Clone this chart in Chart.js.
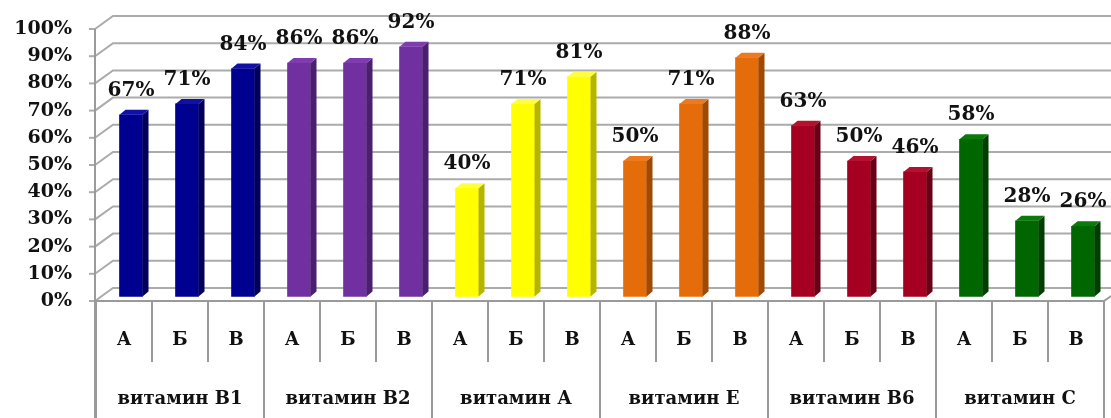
<!DOCTYPE html>
<html>
<head>
<meta charset="utf-8">
<script src="https://cdn.jsdelivr.net/npm/chart.js@4.4.0/dist/chart.umd.min.js"></script>
<style>
  html, body { margin: 0; padding: 0; background: #ffffff; }
  #wrap { width: 1111px; height: 418px; }
</style>
</head>
<body>
<div id="wrap"><canvas id="c" width="1111" height="418"></canvas></div>
<script>
// ---- data ----
const groups = ['витамин В1', 'витамин В2', 'витамин А', 'витамин Е', 'витамин В6', 'витамин С'];
const subLabels = ['А', 'Б', 'В'];
const vitB1 = [67, 71, 84];
const vitB2 = [86, 86, 92];
const vitA  = [40, 71, 81];
const vitE  = [50, 71, 88];
const vitB6 = [63, 50, 46];
const vitC  = [58, 28, 26];
const yTicks = [0, 10, 20, 30, 40, 50, 60, 70, 80, 90, 100];
const groupColors = ['#000090', '#7030A0', '#FFFF00', '#E46C0A', '#A50021', '#006600'];
const sideColors  = ['#00005A', '#4A1F6E', '#B5B500', '#9E4A05', '#6A0015', '#003E00'];
const topColors   = ['#1010A8', '#7E3CB0', '#FFFF40', '#EE7A1E', '#B5102F', '#0A7A0A'];

// ---- build ----
const seriesByGroup = [vitB1, vitB2, vitA, vitE, vitB6, vitC];
const labels = [];
const values = [];
const barColors = [];
const barSide = [];
const barTop = [];
seriesByGroup.forEach((s, gi) => {
  s.forEach((v, i) => {
    labels.push(subLabels[i]);
    values.push(v);
    barColors.push(groupColors[gi]);
    barSide.push(sideColors[gi]);
    barTop.push(topColors[gi]);
  });
});

const FONT = 'DejaVu Serif';
const SHIFT = 7;      // bars sit deeper than the category table
const DX = 6, DY = 5; // bar depth

const wallPlugin = {
  id: 'wall',
  beforeDatasetsDraw(chart) {
    const ctx = chart.ctx;
    const y = chart.scales.y;
    const x = chart.scales.x;
    const frontX = 95, backX = 113;
    const W = chart.width;
    ctx.save();
    // back-wall gridlines with diagonal connectors
    ctx.strokeStyle = '#ababab';
    ctx.lineWidth = 2;
    yTicks.forEach(v => {
      const yp = y.getPixelForValue(v);
      const fy = yp + 4, by = yp - 9;
      ctx.beginPath();
      ctx.moveTo(frontX, fy);
      ctx.lineTo(backX, by);
      ctx.lineTo(W, by);
      ctx.stroke();
      ctx.beginPath();
      ctx.moveTo(frontX - 6, fy);
      ctx.lineTo(frontX, fy);
      ctx.stroke();
    });
    // front axis
    ctx.strokeStyle = '#9a9a9a';
    const y0 = y.getPixelForValue(0) + 4;
    const y100 = y.getPixelForValue(100) + 4;
    ctx.beginPath();
    ctx.moveTo(frontX, y100);
    ctx.lineTo(frontX, chart.height);
    ctx.stroke();
    // floor front edge
    const n = labels.length;
    const step = x.getPixelForValue(1) - x.getPixelForValue(0);
    const leftB = x.getPixelForValue(0) - step / 2 - SHIFT;
    const rightB = x.getPixelForValue(n - 1) + step / 2 - SHIFT;
    ctx.beginPath();
    ctx.moveTo(frontX, y0);
    ctx.lineTo(rightB, y0);
    ctx.lineTo(rightB + 10, y0 - 7);
    ctx.stroke();
    // category table dividers
    for (let i = 0; i <= n; i++) {
      const bx = leftB + i * step;
      const major = (i % 3 === 0);
      ctx.beginPath();
      ctx.moveTo(bx, y0);
      ctx.lineTo(bx, major ? chart.height : 362);
      ctx.stroke();
    }
    ctx.restore();
  },
  afterDatasetsDraw(chart) {
    const ctx = chart.ctx;
    const meta = chart.getDatasetMeta(0);
    ctx.save();
    meta.data.forEach((el, i) => {
      const p = el.getProps(['x', 'y', 'base', 'width'], true);
      const l = p.x - p.width / 2, r = p.x + p.width / 2;
      // side face
      ctx.fillStyle = barSide[i];
      ctx.beginPath();
      ctx.moveTo(r, p.y);
      ctx.lineTo(r + DX, p.y - DY);
      ctx.lineTo(r + DX, p.base - DY);
      ctx.lineTo(r, p.base);
      ctx.closePath();
      ctx.fill();
      // top face
      ctx.fillStyle = barTop[i];
      ctx.beginPath();
      ctx.moveTo(l, p.y);
      ctx.lineTo(l + DX, p.y - DY);
      ctx.lineTo(r + DX, p.y - DY);
      ctx.lineTo(r, p.y);
      ctx.closePath();
      ctx.fill();
      // value label
      ctx.fillStyle = '#111111';
      ctx.font = 'bold 20px "' + FONT + '"';
      ctx.textAlign = 'center';
      ctx.textBaseline = 'middle';
      ctx.fillText(values[i] + '%', p.x, p.y - 24);
    });
    ctx.restore();
  }
};

const hiddenGrid = (len) => ({
  display: true,
  drawOnChartArea: false,
  drawTicks: true,
  tickLength: len,
  color: 'rgba(0,0,0,0)'
});

new Chart(document.getElementById('c'), {
  type: 'bar',
  data: {
    labels: labels,
    datasets: [{
      data: values,
      backgroundColor: barColors,
      borderWidth: 0,
      barThickness: 23,
      xAxisID: 'x',
      yAxisID: 'y'
    }]
  },
  options: {
    responsive: false,
    devicePixelRatio: 1,
    animation: false,
    layout: { padding: { top: 25, right: 0, left: 0, bottom: 0 } },
    plugins: { legend: { display: false }, tooltip: { enabled: false } },
    scales: {
      y: {
        min: 0, max: 100,
        afterFit(s) { s.width = 103; },
        afterBuildTicks(s) { s.ticks = yTicks.map(v => ({ value: v })); },
        grid: hiddenGrid(31),
        border: { display: false },
        ticks: {
          autoSkip: false,
          padding: 0,
          labelOffset: 4,
          color: '#111111',
          font: { family: FONT, size: 19, weight: 'bold' },
          callback: v => v + '%'
        }
      },
      x: {
        type: 'category',
        position: 'bottom',
        weight: 0,
        afterFit(s) { s.height = 65; },
        grid: hiddenGrid(33),
        border: { display: false },
        ticks: {
          autoSkip: false, maxRotation: 0, minRotation: 0,
          padding: 0,
          labelOffset: -SHIFT,
          color: '#111111',
          font: { family: FONT, size: 18, weight: 'bold' }
        }
      },
      x2: {
        type: 'category',
        labels: groups,
        position: 'bottom',
        weight: 1,
        offset: true,
        afterFit(s) { s.height = 56; },
        grid: hiddenGrid(27),
        border: { display: false },
        ticks: {
          autoSkip: false, maxRotation: 0, minRotation: 0,
          padding: 0,
          labelOffset: -SHIFT,
          color: '#111111',
          font: { family: FONT, size: 18, weight: 'bold' }
        }
      }
    }
  },
  plugins: [wallPlugin]
});
</script>
</body>
</html>
